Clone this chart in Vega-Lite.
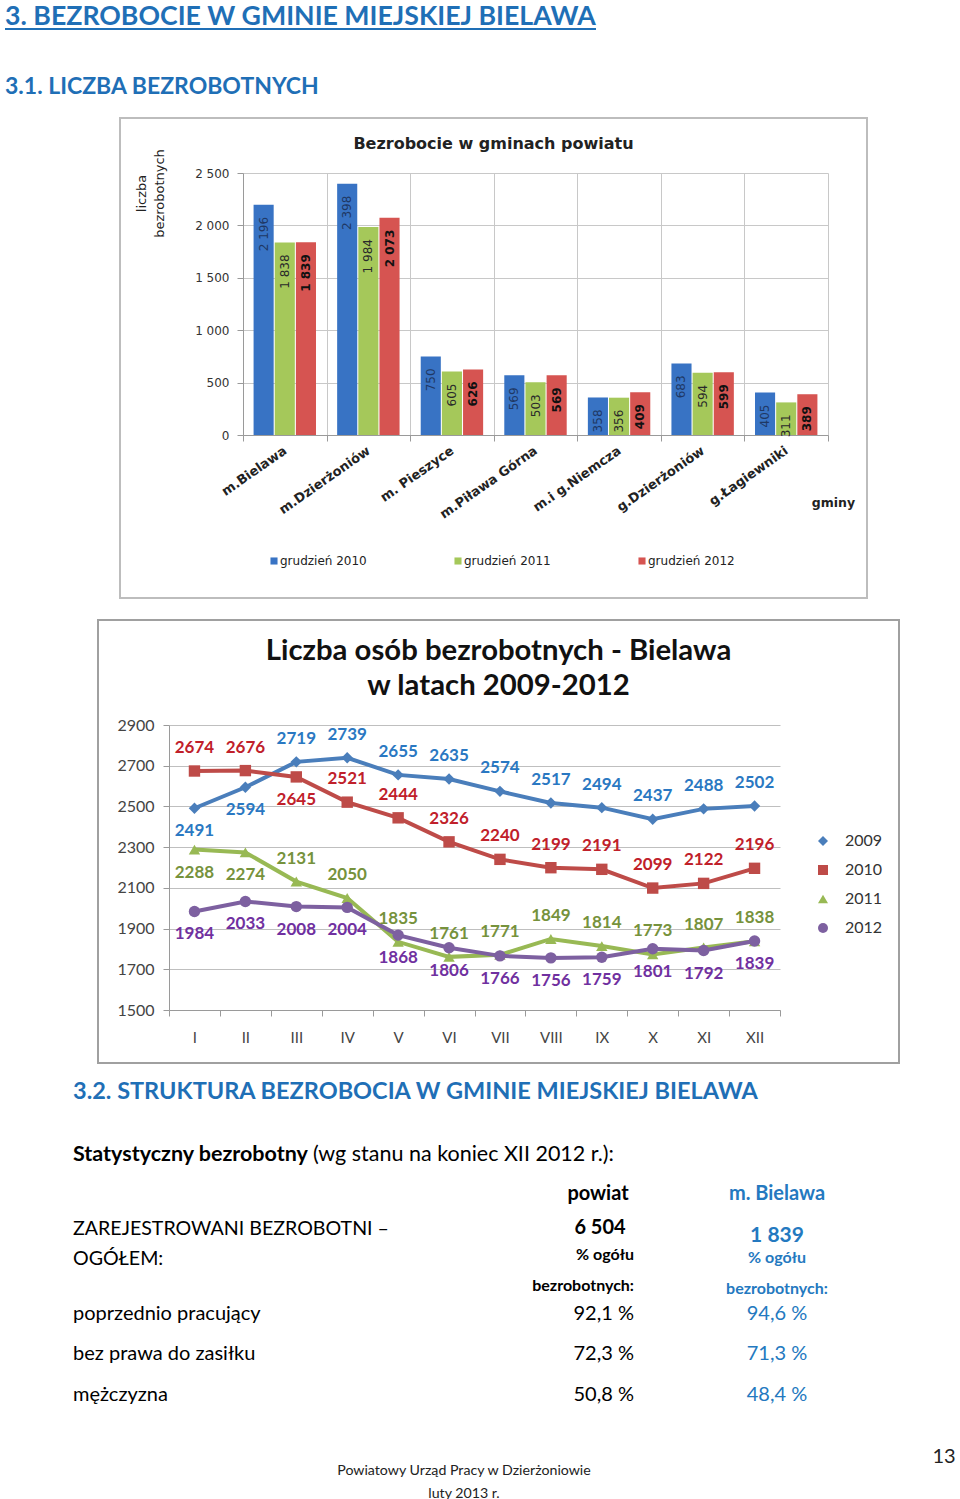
{
  "$schema": "https://vega.github.io/schema/vega-lite/v6.json",
  "background": "white",
  "padding": 0,
  "spacing": 0,
  "resolve": {
    "scale": {"color": "independent", "fill": "independent", "shape": "independent", "x": "independent", "y": "independent"},
    "legend": {"color": "independent", "fill": "independent", "shape": "independent"}
  },
  "config": {
    "view": {"stroke": null},
    "font": "Lato",
    "locale": {"number": {"decimal": ",", "thousands": "\u00a0", "grouping": [3], "currency": ["", " zł"]}}
  },
  "vconcat": [
    {
      "bounds": "flush", "spacing": 0,
      "hconcat": [
        {"width": 5, "height": 117, "data": {"values": []}, "mark": "point"},
        {
          "width": 591, "height": 117,
          "data": {"values": [
            {"k": "h1", "t": "3. BEZROBOCIE W GMINIE MIEJSKIEJ BIELAWA"},
            {"k": "h2", "t": "3.1. LICZBA BEZROBOTNYCH"}
          ]},
          "encoding": {
            "y": {"field": "k", "type": "nominal", "axis": null, "scale": {"type": "point", "domain": ["h1", "h2"], "padding": 0.336, "align": 0.362}}
          },
          "layer": [
            {"transform": [{"filter": "datum.k == 'h1'"}],
             "mark": {"type": "text", "align": "left", "baseline": "middle", "font": "Lato", "fontWeight": "bold", "fontSize": 26.7, "color": "#1F6FB6"},
             "encoding": {"x": {"datum": "a", "type": "nominal", "axis": null, "scale": {"type": "point", "padding": 0, "align": 0}}, "text": {"field": "t"}}},
            {"transform": [{"filter": "datum.k == 'h2'"}],
             "mark": {"type": "text", "align": "left", "baseline": "middle", "font": "Lato", "fontWeight": "bold", "fontSize": 23, "color": "#1F6FB6"},
             "encoding": {"x": {"datum": "a", "type": "nominal", "axis": null, "scale": {"type": "point", "padding": 0, "align": 0}}, "text": {"field": "t"}}},
            {"transform": [{"filter": "datum.k == 'h1'"}], "mark": {"type": "rule", "color": "#1F6FB6", "strokeWidth": 2, "yOffset": 12}, "encoding": {}}
          ]
        }
      ]
    },
    {
      "bounds": "flush", "spacing": 0,
      "resolve": {"scale": {"color": "independent"}, "legend": {"color": "independent"}},
      "hconcat": [
        {"width": 120, "height": 501, "data": {"values": []}, "mark": "point"},
        {
          "width": 747, "height": 480,
          "view": {"stroke": "#BDBDBD", "strokeWidth": 2, "fill": "white"},
          "title": {"text": "Bezrobocie w gminach powiatu", "font": "DejaVu Sans", "fontSize": 16, "fontWeight": "bold", "color": "#222222", "anchor": "middle", "frame": "group", "offset": -34},
          "data": {"values": [
            {"gmina": "m.Bielawa", "okres": "grudzień 2010", "liczba": 2196},
            {"gmina": "m.Bielawa", "okres": "grudzień 2011", "liczba": 1838},
            {"gmina": "m.Bielawa", "okres": "grudzień 2012", "liczba": 1839},
            {"gmina": "m.Dzierżoniów", "okres": "grudzień 2010", "liczba": 2398},
            {"gmina": "m.Dzierżoniów", "okres": "grudzień 2011", "liczba": 1984},
            {"gmina": "m.Dzierżoniów", "okres": "grudzień 2012", "liczba": 2073},
            {"gmina": "m. Pieszyce", "okres": "grudzień 2010", "liczba": 750},
            {"gmina": "m. Pieszyce", "okres": "grudzień 2011", "liczba": 605},
            {"gmina": "m. Pieszyce", "okres": "grudzień 2012", "liczba": 626},
            {"gmina": "m.Piława Górna", "okres": "grudzień 2010", "liczba": 569},
            {"gmina": "m.Piława Górna", "okres": "grudzień 2011", "liczba": 503},
            {"gmina": "m.Piława Górna", "okres": "grudzień 2012", "liczba": 569},
            {"gmina": "m.i g.Niemcza", "okres": "grudzień 2010", "liczba": 358},
            {"gmina": "m.i g.Niemcza", "okres": "grudzień 2011", "liczba": 356},
            {"gmina": "m.i g.Niemcza", "okres": "grudzień 2012", "liczba": 409},
            {"gmina": "g.Dzierżoniów", "okres": "grudzień 2010", "liczba": 683},
            {"gmina": "g.Dzierżoniów", "okres": "grudzień 2011", "liczba": 594},
            {"gmina": "g.Dzierżoniów", "okres": "grudzień 2012", "liczba": 599},
            {"gmina": "g.Łagiewniki", "okres": "grudzień 2010", "liczba": 405},
            {"gmina": "g.Łagiewniki", "okres": "grudzień 2011", "liczba": 311},
            {"gmina": "g.Łagiewniki", "okres": "grudzień 2012", "liczba": 389}
          ]},
          "resolve": {"axis": {"x": "independent"}},
          "encoding": {
            "xOffset": {"field": "okres", "type": "nominal", "sort": null, "scale": {"paddingInner": 0.05, "paddingOuter": 0.5}},
            "y": {"field": "liczba", "type": "quantitative",
                  "scale": {"domain": [0, 2500], "range": [317, 55], "nice": false},
                  "axis": {"orient": "left", "offset": -123, "title": ["liczba", "bezrobotnych"], "titleX": -102, "titleY": 75, "titleAngle": 270, "titleAlign": "center", "titleBaseline": "middle",
                           "titleFont": "DejaVu Sans", "titleFontSize": 13, "titleFontWeight": "normal", "titleColor": "#222222", "titleLineHeight": 18,
                           "values": [0, 500, 1000, 1500, 2000, 2500], "format": ",d", "labelFont": "DejaVu Sans", "labelFontSize": 12, "labelColor": "#333333", "labelPadding": 8,
                           "tickSize": 6, "tickColor": "#9A9A9A", "domainColor": "#9A9A9A", "grid": true, "gridColor": "#C8C8C8"}}
          },
          "layer": [
            {"mark": {"type": "bar"},
             "encoding": {
               "x": {"field": "gmina", "type": "nominal", "sort": null,
                     "scale": {"range": [123, 708], "paddingInner": 0, "paddingOuter": 0},
                     "axis": {"orient": "bottom", "offset": -163, "title": "gminy", "titleX": 713, "titleY": 67, "titleAngle": 0, "titleAlign": "center", "titleBaseline": "middle",
                              "titleFont": "DejaVu Sans", "titleFontSize": 12.5, "titleFontWeight": "bold", "titleColor": "#222222",
                              "labelAngle": -35, "labelAlign": "right", "labelBaseline": "middle", "labelFont": "DejaVu Sans", "labelFontSize": 13, "labelFontWeight": "bold",
                              "labelColor": "#222222", "labelPadding": 8, "labelOverlap": false, "labelLimit": 250,
                              "tickBand": "extent", "tickSize": 6, "tickColor": "#9A9A9A", "domainColor": "#9A9A9A", "grid": false}},
               "color": {"field": "okres", "type": "nominal", "sort": null,
                         "scale": {"domain": ["grudzień 2010", "grudzień 2011", "grudzień 2012"], "range": ["#3873C4", "#A5C85A", "#D65451"]},
                         "legend": {"orient": "none", "legendX": 148, "legendY": 437, "direction": "horizontal", "title": null, "symbolType": "square", "symbolSize": 50,
                                    "symbolStrokeWidth": 0, "labelFont": "DejaVu Sans", "labelFontSize": 12, "labelColor": "#222222", "labelOffset": 0, "columnPadding": 85, "padding": 0}}}},
            {"transform": [{"filter": "datum.okres == 'grudzień 2010'"}],
             "mark": {"type": "text", "angle": 270, "align": "right", "baseline": "middle", "dx": -12, "font": "DejaVu Sans", "fontSize": 12, "color": "#1F3864"},
             "encoding": {
               "x": {"field": "gmina", "type": "nominal", "sort": null,
                     "scale": {"range": [123, 708], "paddingInner": 0, "paddingOuter": 0},
                     "axis": {"orient": "top", "offset": 0, "title": null, "labels": false, "ticks": false, "domain": false, "tickBand": "extent", "grid": true, "gridColor": "#C8C8C8"}},
               "text": {"field": "liczba", "type": "quantitative", "format": ",d"}}},
            {"transform": [{"filter": "datum.okres == 'grudzień 2011'"}],
             "mark": {"type": "text", "angle": 270, "align": "right", "baseline": "middle", "dx": -12, "font": "DejaVu Sans", "fontSize": 12, "color": "#2A2A2A"},
             "encoding": {
               "x": {"field": "gmina", "type": "nominal", "sort": null, "scale": {"range": [123, 708], "paddingInner": 0, "paddingOuter": 0}, "axis": null},
               "text": {"field": "liczba", "type": "quantitative", "format": ",d"}}},
            {"transform": [{"filter": "datum.okres == 'grudzień 2012'"}],
             "mark": {"type": "text", "angle": 270, "align": "right", "baseline": "middle", "dx": -12, "font": "DejaVu Sans", "fontSize": 12, "fontWeight": "bold", "color": "#111111"},
             "encoding": {
               "x": {"field": "gmina", "type": "nominal", "sort": null, "scale": {"range": [123, 708], "paddingInner": 0, "paddingOuter": 0}, "axis": null},
               "text": {"field": "liczba", "type": "quantitative", "format": ",d"}}}
          ]
        }
      ]
    },
    {
      "bounds": "flush", "spacing": 0,
      "resolve": {"scale": {"color": "independent", "fill": "independent", "shape": "independent"}, "legend": {"color": "independent", "fill": "independent", "shape": "independent"}},
      "hconcat": [
        {"width": 98, "height": 443, "data": {"values": []}, "mark": "point"},
        {
          "width": 801, "height": 443,
          "view": {"stroke": "#A0A0A0", "strokeWidth": 2, "fill": "white"},
          "title": {"text": ["Liczba osób bezrobotnych - Bielawa", "w latach 2009-2012"], "font": "Lato", "fontSize": 29.3, "fontWeight": "bold", "color": "#111111", "lineHeight": 35, "anchor": "middle", "frame": "group", "offset": -81},
          "data": {"values": [
            {"rok": "2009", "miesiac": "I", "liczba": 2491}, {"rok": "2009", "miesiac": "II", "liczba": 2594}, {"rok": "2009", "miesiac": "III", "liczba": 2719},
            {"rok": "2009", "miesiac": "IV", "liczba": 2739}, {"rok": "2009", "miesiac": "V", "liczba": 2655}, {"rok": "2009", "miesiac": "VI", "liczba": 2635},
            {"rok": "2009", "miesiac": "VII", "liczba": 2574}, {"rok": "2009", "miesiac": "VIII", "liczba": 2517}, {"rok": "2009", "miesiac": "IX", "liczba": 2494},
            {"rok": "2009", "miesiac": "X", "liczba": 2437}, {"rok": "2009", "miesiac": "XI", "liczba": 2488}, {"rok": "2009", "miesiac": "XII", "liczba": 2502},
            {"rok": "2010", "miesiac": "I", "liczba": 2674}, {"rok": "2010", "miesiac": "II", "liczba": 2676}, {"rok": "2010", "miesiac": "III", "liczba": 2645},
            {"rok": "2010", "miesiac": "IV", "liczba": 2521}, {"rok": "2010", "miesiac": "V", "liczba": 2444}, {"rok": "2010", "miesiac": "VI", "liczba": 2326},
            {"rok": "2010", "miesiac": "VII", "liczba": 2240}, {"rok": "2010", "miesiac": "VIII", "liczba": 2199}, {"rok": "2010", "miesiac": "IX", "liczba": 2191},
            {"rok": "2010", "miesiac": "X", "liczba": 2099}, {"rok": "2010", "miesiac": "XI", "liczba": 2122}, {"rok": "2010", "miesiac": "XII", "liczba": 2196},
            {"rok": "2011", "miesiac": "I", "liczba": 2288}, {"rok": "2011", "miesiac": "II", "liczba": 2274}, {"rok": "2011", "miesiac": "III", "liczba": 2131},
            {"rok": "2011", "miesiac": "IV", "liczba": 2050}, {"rok": "2011", "miesiac": "V", "liczba": 1835}, {"rok": "2011", "miesiac": "VI", "liczba": 1761},
            {"rok": "2011", "miesiac": "VII", "liczba": 1771}, {"rok": "2011", "miesiac": "VIII", "liczba": 1849}, {"rok": "2011", "miesiac": "IX", "liczba": 1814},
            {"rok": "2011", "miesiac": "X", "liczba": 1773}, {"rok": "2011", "miesiac": "XI", "liczba": 1807}, {"rok": "2011", "miesiac": "XII", "liczba": 1838},
            {"rok": "2012", "miesiac": "I", "liczba": 1984}, {"rok": "2012", "miesiac": "II", "liczba": 2033}, {"rok": "2012", "miesiac": "III", "liczba": 2008},
            {"rok": "2012", "miesiac": "IV", "liczba": 2004}, {"rok": "2012", "miesiac": "V", "liczba": 1868}, {"rok": "2012", "miesiac": "VI", "liczba": 1806},
            {"rok": "2012", "miesiac": "VII", "liczba": 1766}, {"rok": "2012", "miesiac": "VIII", "liczba": 1756}, {"rok": "2012", "miesiac": "IX", "liczba": 1759},
            {"rok": "2012", "miesiac": "X", "liczba": 1801}, {"rok": "2012", "miesiac": "XI", "liczba": 1792}, {"rok": "2012", "miesiac": "XII", "liczba": 1839}
          ]},
          "encoding": {
            "x": {"field": "miesiac", "type": "ordinal", "sort": null,
                  "scale": {"type": "band", "range": [71, 682], "paddingInner": 0, "paddingOuter": 0},
                  "axis": {"orient": "bottom", "offset": -53, "title": null, "labelAngle": 0, "labelFont": "Lato", "labelFontSize": 15, "labelColor": "#444444", "labelPadding": 14,
                           "tickBand": "extent", "tickSize": 6, "tickColor": "#9A9A9A", "domainColor": "#9A9A9A", "grid": false}},
            "y": {"field": "liczba", "type": "quantitative",
                  "scale": {"domain": [1500, 2900], "range": [390, 105], "nice": false, "zero": false},
                  "axis": {"orient": "left", "offset": -71, "title": null, "values": [1500, 1700, 1900, 2100, 2300, 2500, 2700, 2900], "format": "d",
                           "labelFont": "Lato", "labelFontSize": 16, "labelColor": "#444444", "labelPadding": 9, "tickSize": 6, "tickColor": "#9A9A9A",
                           "domainColor": "#9A9A9A", "grid": true, "gridColor": "#BFBFBF"}}
          },
          "layer": [
            {"mark": {"type": "line", "strokeWidth": 4},
             "encoding": {"color": {"field": "rok", "type": "nominal", "scale": {"domain": ["2009", "2010", "2011", "2012"], "range": ["#4A7EBB", "#BE4B48", "#98B954", "#7D60A0"]}},
                          "order": {"value": null}}},
            {"mark": {"type": "point", "filled": true, "size": 130, "opacity": 1},
             "encoding": {
               "color": {"field": "rok", "type": "nominal", "scale": {"domain": ["2009", "2010", "2011", "2012"], "range": ["#4A7EBB", "#BE4B48", "#98B954", "#7D60A0"]},
                         "legend": {"orient": "none", "legendX": 717, "legendY": 213, "title": null, "direction": "vertical", "symbolSize": 100, "symbolStrokeWidth": 0,
                                    "labelFont": "Lato", "labelFontSize": 16, "labelColor": "#333333", "labelOffset": 14, "rowPadding": 13, "padding": 0,
                                    "encode": {"symbols": {"size": {"value": 100}, "shape": {"value": {"expr": "datum.value == '2009' ? 'M-3.7,-0.3H3.7V0.3H-3.7Z M0,-1L1,0L0,1L-1,0Z' : datum.value == '2010' ? 'M-3.7,-0.3H3.7V0.3H-3.7Z M-1,-1H1V1H-1Z' : datum.value == '2011' ? 'M-3.7,-0.3H3.7V0.3H-3.7Z M0,-1.1L1.15,0.9H-1.15Z' : 'M-3.7,-0.3H3.7V0.3H-3.7Z M-1,0A1,1,0,1,1,1,0A1,1,0,1,1,-1,0Z'"}}}}}},
               "shape": {"field": "rok", "type": "nominal", "scale": {"domain": ["2009", "2010", "2011", "2012"], "range": ["diamond", "square", "triangle-up", "circle"]}, "legend": null}
             }},
            {"transform": [{"filter": "!(datum.rok == '2012' || (datum.rok == '2009' && (datum.miesiac == 'I' || datum.miesiac == 'II')) || (datum.rok == '2010' && datum.miesiac == 'III') || (datum.rok == '2011' && (datum.miesiac == 'I' || datum.miesiac == 'II')))"}],
             "mark": {"type": "text", "baseline": "middle", "dy": -23, "font": "Lato", "fontWeight": "bold", "fontSize": 17},
             "encoding": {"text": {"field": "liczba", "type": "quantitative", "format": "d"},
                          "fill": {"field": "rok", "type": "nominal", "scale": {"domain": ["2009", "2010", "2011", "2012"], "range": ["#2A78C2", "#C0202A", "#76923C", "#7030A0"]}, "legend": null}}},
            {"transform": [{"filter": "datum.rok == '2012' || (datum.rok == '2009' && (datum.miesiac == 'I' || datum.miesiac == 'II')) || (datum.rok == '2010' && datum.miesiac == 'III') || (datum.rok == '2011' && (datum.miesiac == 'I' || datum.miesiac == 'II'))"}],
             "mark": {"type": "text", "baseline": "middle", "dy": 23, "font": "Lato", "fontWeight": "bold", "fontSize": 17},
             "encoding": {"text": {"field": "liczba", "type": "quantitative", "format": "d"},
                          "fill": {"field": "rok", "type": "nominal", "scale": {"domain": ["2009", "2010", "2011", "2012"], "range": ["#2A78C2", "#C0202A", "#76923C", "#7030A0"]}, "legend": null}}}
          ]
        }
      ]
    },
    {
      "bounds": "flush", "spacing": 0,
      "hconcat": [
        {"width": 73, "height": 111, "data": {"values": []}, "mark": "point"},
        {
          "width": 860, "height": 111,
          "data": {"values": [
            {"k": "h", "t": "3.2. STRUKTURA BEZROBOCIA W GMINIE MIEJSKIEJ BIELAWA", "t2": ""},
            {"k": "s", "t": "Statystyczny bezrobotny", "t2": "(wg stanu na koniec XII 2012 r.):"}
          ]},
          "encoding": {
            "y": {"field": "k", "type": "nominal", "axis": null, "scale": {"type": "point", "domain": ["h", "s"], "padding": 0.381, "align": 0.583}},
            "x": {"datum": "a", "type": "nominal", "axis": null, "scale": {"type": "point", "padding": 0, "align": 0}}
          },
          "layer": [
            {"transform": [{"filter": "datum.k == 'h'"}], "mark": {"type": "text", "align": "left", "baseline": "middle", "font": "Lato", "fontWeight": "bold", "fontSize": 23.5, "color": "#1F6FB6"}, "encoding": {"text": {"field": "t"}}},
            {"transform": [{"filter": "datum.k == 's'"}], "mark": {"type": "text", "align": "left", "baseline": "middle", "font": "Lato", "fontWeight": "bold", "fontSize": 21.5, "color": "#000000"}, "encoding": {"text": {"field": "t"}}},
            {"transform": [{"filter": "datum.k == 's'"}], "mark": {"type": "text", "align": "left", "baseline": "middle", "font": "Lato", "fontSize": 21.5, "color": "#000000", "dx": 240}, "encoding": {"text": {"field": "t2"}}}
          ]
        }
      ]
    },
    {
      "bounds": "flush", "spacing": 0,
      "data": {"values": [
        {"row": "hdr", "label": "", "powiat": "powiat", "bielawa": "m. Bielawa"},
        {"row": "r1", "label": "ZAREJESTROWANI BEZROBOTNI –", "powiat": "6 504", "bielawa": "1 839"},
        {"row": "r2", "label": "OGÓŁEM:", "powiat": "% ogółu", "bielawa": "% ogółu"},
        {"row": "r3", "label": "", "powiat": "bezrobotnych:", "bielawa": "bezrobotnych:"}
      ]},
      "hconcat": [
        {"width": 73, "height": 125, "data": {"values": []}, "mark": "point"},
        {
          "width": 407, "height": 125,
          "transform": [{"filter": "datum.label != ''"}],
          "mark": {"type": "text", "align": "left", "baseline": "middle", "font": "Lato", "fontSize": 19.6, "color": "#000000", "dy": 4},
          "encoding": {
            "y": {"field": "row", "type": "nominal", "axis": null, "scale": {"type": "point", "domain": ["hdr", "r1", "r2", "r3"], "padding": 0.538, "align": 0.576}},
            "x": {"datum": "a", "type": "nominal", "axis": null, "scale": {"type": "point", "padding": 0, "align": 0}},
            "text": {"field": "label"}
          }
        },
        {
          "width": 154, "height": 125,
          "encoding": {
            "y": {"field": "row", "type": "nominal", "axis": null, "scale": {"type": "point", "domain": ["hdr", "r1", "r2", "r3"], "padding": 0.538, "align": 0.576}},
            "x": {"datum": "a", "type": "nominal", "axis": null, "scale": {"type": "point", "padding": 0, "align": 1}},
            "text": {"field": "powiat"}
          },
          "layer": [
            {"transform": [{"filter": "datum.row == 'hdr'"}], "mark": {"type": "text", "align": "center", "baseline": "middle", "font": "Lato", "fontSize": 20, "fontWeight": "bold", "color": "#000000", "dx": -36}},
            {"transform": [{"filter": "datum.row == 'r1'"}], "mark": {"type": "text", "align": "center", "baseline": "middle", "font": "Lato", "fontSize": 20, "fontWeight": "bold", "color": "#000000", "dx": -34, "dy": 3}},
            {"transform": [{"filter": "datum.row == 'r2' || datum.row == 'r3'"}], "mark": {"type": "text", "align": "right", "baseline": "middle", "font": "Lato", "fontSize": 16, "fontWeight": "bold", "color": "#000000"}}
          ]
        },
        {
          "width": 286, "height": 125,
          "encoding": {
            "y": {"field": "row", "type": "nominal", "axis": null, "scale": {"type": "point", "domain": ["hdr", "r1", "r2", "r3"], "padding": 0.538, "align": 0.576}},
            "text": {"field": "bielawa"}
          },
          "layer": [
            {"transform": [{"filter": "datum.row == 'hdr'"}], "mark": {"type": "text", "align": "center", "baseline": "middle", "font": "Lato", "fontSize": 20, "fontWeight": "bold", "color": "#2479C0"}},
            {"transform": [{"filter": "datum.row == 'r1'"}], "mark": {"type": "text", "align": "center", "baseline": "middle", "font": "Lato", "fontSize": 21, "fontWeight": "bold", "color": "#2479C0", "dy": 11}},
            {"transform": [{"filter": "datum.row == 'r2' || datum.row == 'r3'"}], "mark": {"type": "text", "align": "center", "baseline": "middle", "font": "Lato", "fontSize": 16, "fontWeight": "bold", "color": "#2479C0", "dy": 3}}
          ]
        }
      ]
    },
    {
      "bounds": "flush", "spacing": 0,
      "data": {"values": [
        {"row": "b1", "label": "poprzednio pracujący", "powiat": "92,1 %", "bielawa": "94,6 %"},
        {"row": "b2", "label": "bez prawa do zasiłku", "powiat": "72,3 %", "bielawa": "71,3 %"},
        {"row": "b3", "label": "mężczyzna", "powiat": "50,8 %", "bielawa": "48,4 %"}
      ]},
      "hconcat": [
        {"width": 73, "height": 135, "data": {"values": []}, "mark": "point"},
        {
          "width": 407, "height": 135,
          "mark": {"type": "text", "align": "left", "baseline": "middle", "font": "Lato", "fontSize": 20, "color": "#000000"},
          "encoding": {
            "y": {"field": "row", "type": "nominal", "axis": null, "scale": {"type": "point", "domain": ["b1", "b2", "b3"], "padding": 0.667, "align": 0.259}},
            "x": {"datum": "a", "type": "nominal", "axis": null, "scale": {"type": "point", "padding": 0, "align": 0}},
            "text": {"field": "label"}
          }
        },
        {
          "width": 154, "height": 135,
          "mark": {"type": "text", "align": "right", "baseline": "middle", "font": "Lato", "fontSize": 20, "color": "#000000"},
          "encoding": {
            "y": {"field": "row", "type": "nominal", "axis": null, "scale": {"type": "point", "domain": ["b1", "b2", "b3"], "padding": 0.667, "align": 0.259}},
            "x": {"datum": "a", "type": "nominal", "axis": null, "scale": {"type": "point", "padding": 0, "align": 1}},
            "text": {"field": "powiat"}
          }
        },
        {
          "width": 286, "height": 135,
          "mark": {"type": "text", "align": "center", "baseline": "middle", "font": "Lato", "fontSize": 20, "color": "#2479C0"},
          "encoding": {
            "y": {"field": "row", "type": "nominal", "axis": null, "scale": {"type": "point", "domain": ["b1", "b2", "b3"], "padding": 0.667, "align": 0.259}},
            "text": {"field": "bielawa"}
          }
        }
      ]
    },
    {
      "bounds": "flush", "spacing": 0,
      "hconcat": [
        {
          "width": 928, "height": 67,
          "data": {"values": [{"k": "a", "t": "Powiatowy Urząd Pracy w Dzierżoniowie"}, {"k": "b", "t": "luty 2013 r."}]},
          "mark": {"type": "text", "align": "center", "baseline": "middle", "font": "Lato", "fontSize": 14.2, "color": "#222222"},
          "encoding": {
            "y": {"field": "k", "type": "nominal", "axis": null, "scale": {"type": "point", "domain": ["a", "b"], "padding": 1.361, "align": 0.816}},
            "text": {"field": "t"}
          }
        },
        {
          "width": 32, "height": 67,
          "data": {"values": [{"k": "a", "t": "13"}]},
          "mark": {"type": "text", "align": "center", "baseline": "middle", "font": "Lato", "fontSize": 20, "color": "#222222", "dy": -14},
          "encoding": {
            "y": {"field": "k", "type": "nominal", "axis": null, "scale": {"type": "point", "domain": ["a", "b"], "padding": 1.361, "align": 0.816}},
            "text": {"field": "t"}
          }
        }
      ]
    }
  ]
}
